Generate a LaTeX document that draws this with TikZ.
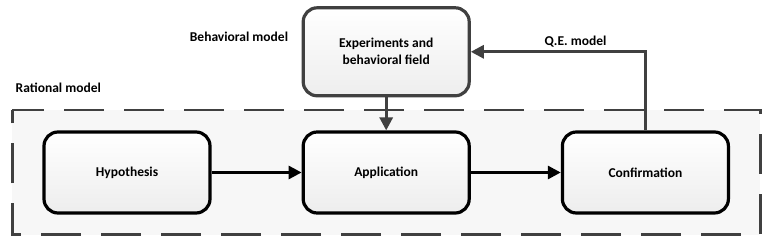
\documentclass[tikz,border=0pt]{standalone}
\usepackage{fontspec}
\setmainfont{Carlito}
\usepackage{xcolor}
\usepackage{tikz}
\usetikzlibrary{arrows.meta,positioning,fit,backgrounds}

\definecolor{edgegray}{HTML}{404040}

\begin{document}
\begin{tikzpicture}[
  node distance=90pt,
  box/.style={draw=black, line width=3.2pt, rounded corners=14pt, minimum width=166pt, minimum height=81pt,
    align=center, font=\bfseries\fontsize{13.5}{17}\selectfont, top color=white, bottom color=gray!14},
  lbl/.style={font=\bfseries\fontsize{13.5}{17}\selectfont},
  arr/.style={-{Triangle[length=13pt,width=13pt]}, line width=3pt},
  garr/.style={arr, draw=edgegray}
]
  \useasboundingbox (0,0) rectangle (768pt,-245pt);
  \node[box] (hyp) at (127pt,-172.5pt) {Hypothesis};
  \node[box, right=of hyp] (app) {Application};
  \node[box, right=of app] (conf) {Confirmation};
  \node[box, draw=edgegray, above=33pt of app, minimum height=88pt] (exp) {Experiments and\\behavioral field};
  % dashed frame round the rational model
  \begin{scope}[on background layer]
    \node[fill=gray!6, inner xsep=30pt, inner ysep=20pt, fit=(hyp)(conf)] (frame) {};
    \draw[edgegray, line width=2.6pt, dash pattern=on 40pt off 20pt, dash phase=8pt]
      (frame.north west) -- (frame.north east) -- (frame.south east) -- (frame.south west) -- cycle;
  \end{scope}
  \node[lbl, anchor=west] (rat) at ([yshift=22pt]frame.north west) {Rational model};
  \node[lbl, anchor=east] (beh) at ([xshift=-10pt,yshift=15pt]exp.west) {Behavioral model};
  \draw[arr] (hyp) -- (app);
  \draw[arr] (app) -- (conf);
  \draw[garr] (exp) -- (app);
  \draw[garr] (conf.north) |- node[lbl, pos=0.7, above] {Q.E. model} (exp.east);
\end{tikzpicture}
\end{document}
